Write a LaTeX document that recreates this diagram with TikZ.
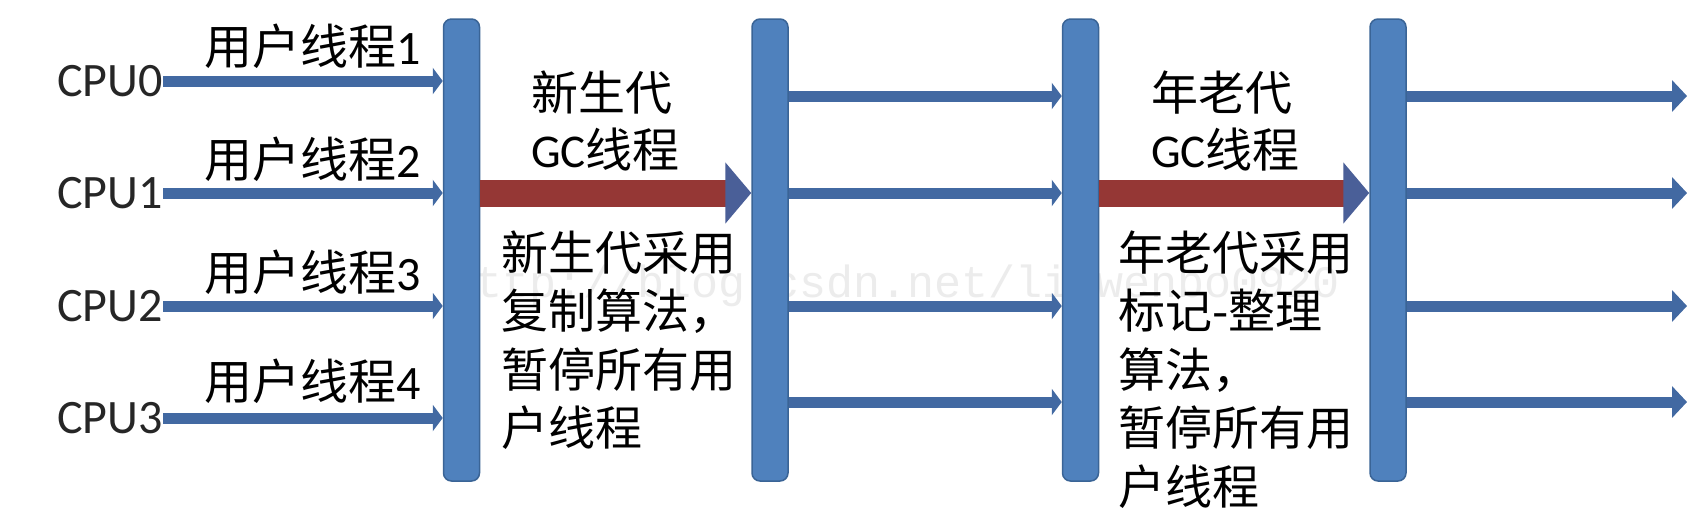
\documentclass[tikz,border=0pt]{standalone}
\usepackage{fontspec}
\setmainfont{Carlito}
\newfontfamily\cjk{Noto Sans CJK SC}
\newfontfamily\wmfont{Liberation Mono}
\usetikzlibrary{arrows.meta}
\definecolor{barfill}{HTML}{4F81BD}
\definecolor{barline}{HTML}{3A6496}
\definecolor{arrblue}{HTML}{4269A2}
\definecolor{arrred}{HTML}{953735}
\definecolor{tipblue}{HTML}{4A5F98}
\definecolor{wmgray}{HTML}{ECECEC}
\begin{document}
\begin{tikzpicture}[x=1pt,y=-1pt,
  bar/.style={draw=barline, line width=1.5pt, fill=barfill, rounded corners=8pt,
    minimum width=36pt, minimum height=462pt, inner sep=0pt},
  cpulabel/.style={font=\fontsize{48}{48}\selectfont, inner sep=0pt, text=black!85, anchor=east},
  thrlabel/.style={font=\fontsize{48}{48}\selectfont, inner sep=0pt, anchor=base west},
  gclabel/.style={font=\fontsize{47}{57}\selectfont, inner sep=0pt, align=left, anchor=base west},
  desc/.style={font=\fontsize{47}{58.5}\selectfont, inner sep=0pt, align=left, anchor=base west},
  thin arrow/.style={draw=arrblue, line width=11pt, -{Triangle[length=10pt,width=26pt]}},
  out arrow/.style={draw=arrblue, line width=11pt, -{Triangle[length=15pt,width=31pt]}},
  gc arrow/.style={draw=arrred, line width=27pt, -{Triangle[length=26pt,width=60pt,color=tipblue]}},
  wm/.style={font=\wmfont\fontsize{45}{45}\selectfont, text=wmgray, inner sep=0pt, anchor=base west}
]
\fill[white] (0,0) rectangle (1708,528);
\useasboundingbox (0,0) rectangle (1708,528);

% watermark
\node[wm] (wmark) at (448,297) {http://blog.csdn.net/liuwenbo0920};

% bars
\node[bar] (b1) at (461.5,250) {};
\node[bar] (b2) at (770,250) {};
\node[bar] (b3) at (1080.5,250) {};
\node[bar] (b4) at (1388,250) {};

% CPU labels
\node[cpulabel] (c0) at (163,81) {CPU0};
\node[cpulabel] (c1) at (163,193) {CPU1};
\node[cpulabel] (c2) at (163,306) {CPU2};
\node[cpulabel] (c3) at (163,418) {CPU3};

% user thread labels
\node[thrlabel] (t1) at (204,64) {{\cjk 用户线程}1};
\node[thrlabel] (t2) at (204,177) {{\cjk 用户线程}2};
\node[thrlabel] (t3) at (204,290) {{\cjk 用户线程}3};
\node[thrlabel] (t4) at (204,399) {{\cjk 用户线程}4};

% user thread arrows
\foreach \c in {c0,c1,c2,c3}
  \draw[thin arrow] (\c.east) -- (\c.east -| b1.west);

% GC arrows
\draw[gc arrow] (b1.east |- c1) -- (b2.west |- c1);
\draw[gc arrow] (b3.east |- c1) -- (b4.west |- c1);

% rows after GC
\coordinate (r0) at (0,96);
\coordinate (r1) at (0,193);
\coordinate (r2) at (0,306);
\coordinate (r3) at (0,402);
\foreach \r in {r0,r1,r2,r3}
  \draw[thin arrow] (b2.east |- \r) -- (b3.west |- \r);
\coordinate (e0) at (1687,96);
\coordinate (e1) at (1687,193);
\coordinate (e2) at (1687,306);
\coordinate (e3) at (1687,402);
\foreach \e in {e0,e1,e2,e3}
  \draw[out arrow] (b4.east |- \e) -- (\e);

% GC labels (base anchor = last line baseline)
\node[gclabel] (g1) at (531,167) {{\cjk 新生代}\\GC{\cjk 线程}};
\node[gclabel] (g2) at (1151,167) {{\cjk 年老代}\\GC{\cjk 线程}};

% descriptions
\node[desc] (d1) at (501,445.5) {\cjk 新生代采用\\\cjk 复制算法，\\\cjk 暂停所有用\\\cjk 户线程};
\node[desc] (d2) at (1118,504) {\cjk 年老代采用\\\cjk 标记-整理\\\cjk 算法，\\\cjk 暂停所有用\\\cjk 户线程};
\end{tikzpicture}
\end{document}
